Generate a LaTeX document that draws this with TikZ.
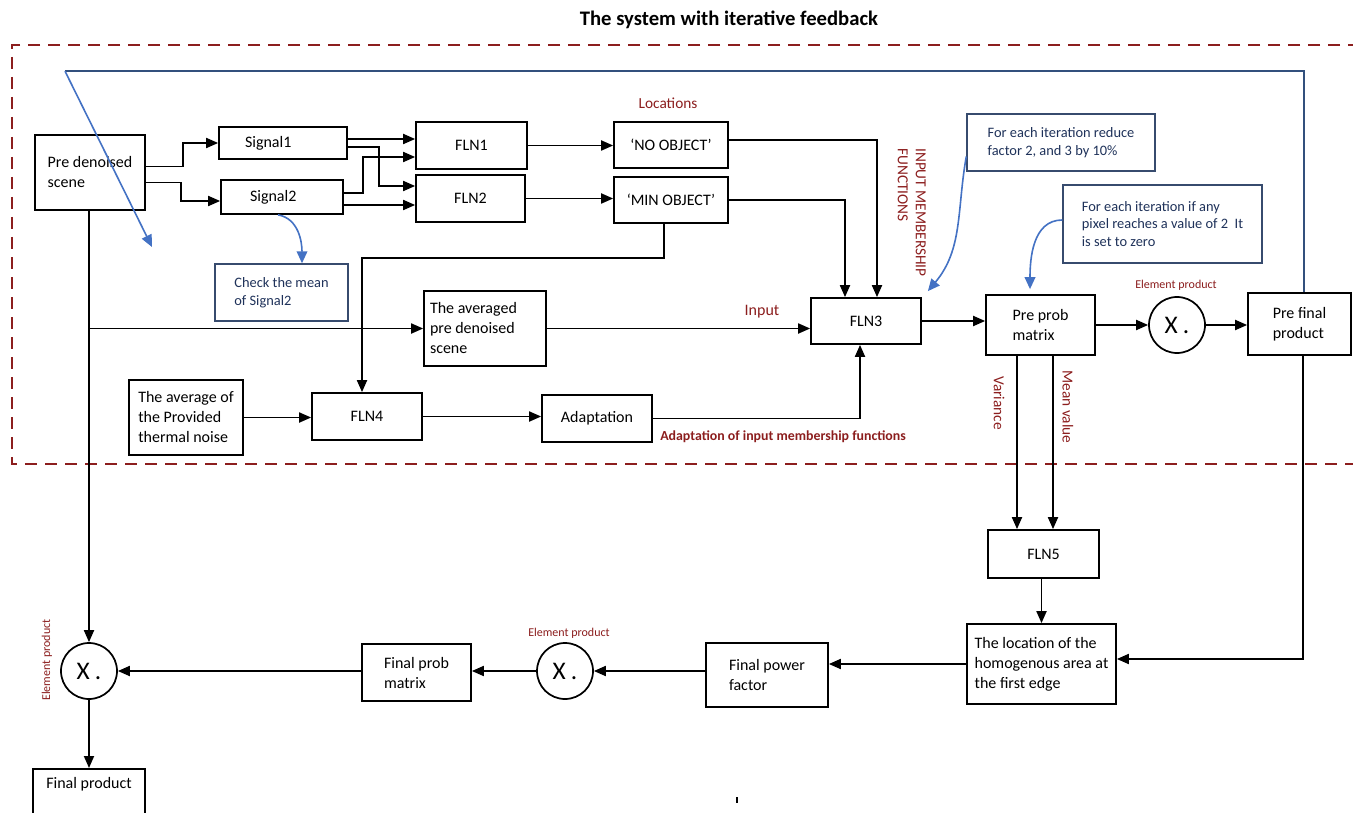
\documentclass[tikz,border=0pt]{standalone}
\usepackage{fontspec}
\setmainfont{Carlito}
\usetikzlibrary{calc,arrows.meta}
\definecolor{dred}{RGB}{140,30,30}
\definecolor{fbblue}{RGB}{68,114,196}
\definecolor{fbdark}{RGB}{50,80,125}
\definecolor{navy}{RGB}{31,50,90}
\definecolor{slate}{RGB}{55,75,110}
\begin{document}
\begin{tikzpicture}[x=0.75pt,y=-0.75pt,
  box/.style={draw=black, line width=1.3pt, fill=white, inner sep=0pt, align=left, font=\fontsize{12}{15}\selectfont},
  cbox/.style={draw=slate, line width=1.1pt, fill=white, inner sep=0pt, align=left, text=navy, font=\fontsize{10.8}{13.3}\selectfont},
  sz/.style n args={2}{minimum width=#1, minimum height=#2},
  mult/.style={circle, draw=black, line width=1.3pt, fill=white, minimum size=42pt, inner sep=0pt, font=\fontsize{19}{19}\selectfont},
  conn/.style={line width=1.4pt, -{Triangle[length=9pt,width=7.5pt]}},
  plain/.style={line width=1.4pt},
  bconn/.style={draw=fbblue, line width=1.2pt, -{Triangle[length=9pt,width=8pt]}},
  lbl/.style={text=dred, inner sep=0pt, font=\fontsize{11.5}{13.5}\selectfont},
  small/.style={text=dred, inner sep=0pt, font=\fontsize{9}{10}\selectfont}
]
\fill[white] (0,0) rectangle (1353,813);
\useasboundingbox (0,0) rectangle (1353,813);
\clip (0,0) rectangle (1353,813);

% title
\node[font=\bfseries\fontsize{15.5}{18}\selectfont] (title) at (729,20) {The system with iterative feedback};

% dashed frame
\draw[dred, line width=2.2pt, dash pattern=on 9pt off 6pt] (1360,45) -- (12,45) -- (12,464) -- (1360,464);

% boxes
\node[box, sz={82.5pt}{56.25pt}] (pre) at (90,172.5) {Pre denoised\\scene};
\node[box, sz={96pt}{24pt}] (sig1) at (283,143) {\makebox[57pt][l]{Signal1}};
\node[box, sz={91.5pt}{25.5pt}] (sig2) at (282,197) {\makebox[48pt][l]{Signal2}};
\node[box, sz={83.25pt}{35.25pt}] (fln1) at (471.5,145.5) {FLN1};
\node[box, sz={81.75pt}{35.25pt}] (fln2) at (470.5,198.5) {FLN2};
\node[box, sz={85.5pt}{34.5pt}] (noobj) at (671,145) {`NO OBJECT'};
\node[box, sz={85.5pt}{34.5pt}] (minobj) at (671,200) {`MIN OBJECT'};
\node[box, sz={82.5pt}{34.5pt}] (fln3) at (866,321) {FLN3};
\node[box, sz={81.75pt}{45pt}] (prep) at (1040.5,325) {Pre prob\\matrix};
\node[mult] (cross1) at (1177,325) {X\hspace{0.2em}.};
\node[box, sz={77.25pt}{46.5pt}] (pref) at (1299.5,324) {Pre final\\product};
\node[box, sz={91.5pt}{56.25pt}] (avg) at (485,328.5) {\makebox[82.5pt][l]{The averaged}\\pre denoised\\scene};
\node[box, sz={85.5pt}{56.25pt}] (therm) at (186,417.5) {The average of\\the Provided\\thermal noise};
\node[box, sz={82.5pt}{35.25pt}] (fln4) at (367,416.5) {FLN4};
\node[box, sz={82.5pt}{35.25pt}] (adapt) at (597,418.5) {Adaptation};
\node[box, sz={83.25pt}{36pt}] (fln5) at (1043.5,554) {FLN5};
\node[box, sz={111.75pt}{60pt}] (loc) at (1041.5,664) {The location of the\\homogenous area at\\the first edge};
\node[box, sz={91.5pt}{48pt}] (fpow) at (767,675) {Final power\\factor};
\node[mult] (cross2) at (565,671) {X\hspace{0.2em}.};
\node[box, sz={81.75pt}{42.75pt}] (fprob) at (416.5,672.5) {Final prob\\matrix};
\node[mult] (cross3) at (89,671) {X\hspace{0.2em}.};
\node[box, minimum width=84pt, anchor=north, inner ysep=6pt, text height=9pt, text depth=30pt] (fprod) at (89,768) {Final product};

% callouts
\node[cbox, sz={99.75pt}{42.75pt}] (check) at (281.5,292.5) {Check the mean\\of Signal2};
\node[cbox, sz={141pt}{42.75pt}] (call1) at (1061,142.5) {For each iteration reduce\\factor 2, and 3 by 10\%};
\node[cbox, sz={149.25pt}{58.5pt}] (call2) at (1162.5,224) {For each iteration if any\\pixel reaches a value of 2~~It\\is set to zero};

% labels
\node[lbl] (locl) at (668,103) {Locations};
\node[lbl, rotate=-90, anchor=north west, align=left] (imf) at (926,148) {INPUT MEMBERSHIP\\FUNCTIONS};
\node[lbl, font=\fontsize{12}{14}\selectfont] (inl) at (762,312) {Input};
\node[lbl, anchor=west, font=\bfseries\fontsize{10.4}{12}\selectfont] (adl) at (660,437) {Adaptation of input membership functions};
\node[lbl, rotate=-90] (varl) at (999,403) {Variance};
\node[lbl, rotate=-90] (meanl) at (1068,407) {Mean value};
\node[small] (ep1) at (1176,285) {Element product};
\node[small] (ep2) at (569,633) {Element product};
\node[small, rotate=90] (ep3) at (47,660) {Element product};

% connectors
\draw[conn] ($(pre.east)+(0,-6)$) -- ++(37,0) |- (sig1.west);
\draw[conn] ($(pre.east)+(0,10)$) -- ++(35,0) |- ($(sig2.west)+(0,4)$);
\draw[conn] ($(sig1.east)+(0,-4)$) -- ($(fln1.west)+(0,-6.5)$);
\draw[conn] ($(sig1.east)+(0,4)$) -- ++(31,0) |- ($(fln2.west)+(0,-12.5)$);
\draw[conn] ($(sig2.east)+(0,-4)$) -- ++(19,0) |- ($(fln1.west)+(0,11.5)$);
\draw[conn] ($(sig2.east)+(0,8)$) -- ($(fln2.west)+(0,6.5)$);
\draw[conn] (fln1.east) -- (fln1.east -| noobj.west);
\draw[conn] (fln2.east) -- (fln2.east -| minobj.west);
\draw[conn] ($(noobj.east)+(0,-5)$) -| ($(fln3.north)+(11,0)$);
\draw[conn] (minobj.east) -| ($(fln3.north)+(-21,0)$);
\draw[conn] ($(minobj.south)+(-7,0)$) -- ++(0,34) -| ($(fln4.north)+(-5,0)$);
\draw[conn] (pre.south -| cross3.north) -- (cross3.north);
\draw[conn] (cross3.north |- avg.west) -- (avg.west);
\draw[conn] (avg.east) -- (avg.east -| fln3.west);
\draw[conn] (therm.east) -- (therm.east -| fln4.west);
\draw[conn] (fln4.east) -- (fln4.east -| adapt.west);
\draw[conn] (adapt.east) -| ($(fln3.south)+(-6,0)$);
\draw[conn] (fln3.east) -- (fln3.east -| prep.west);
\draw[conn] (prep.east) -- (cross1.west);
\draw[conn] (cross1.east) -- (cross1.east -| pref.west);
\coordinate (vA) at ($(prep.south)+(-23.5,0)$);
\coordinate (vB) at ($(prep.south)+(12.5,0)$);
\draw[conn] (vA) -- (vA |- fln5.north);
\draw[conn] (vB) -- (vB |- fln5.north);
\draw[conn] (fln5.south -| loc.north) -- (loc.north);
\draw[conn] ($(pref.south)+(3.5,0)$) |- ($(loc.east)+(0,-5)$);
\draw[conn] (loc.west) -- (loc.west -| fpow.east);
\draw[conn] (fpow.west |- cross2.east) -- (cross2.east);
\draw[conn] (cross2.west) -- (cross2.west -| fprob.east);
\draw[conn] (fprob.west |- cross3.east) -- (cross3.east);
\draw[conn] (cross3.south) -- (cross3.south |- fprod.north);

% feedback
\coordinate (fbtip) at (152,247);
\draw[plain, draw=fbdark] ($(pref.north)+(4.5,0)$) -- ++(0,-221) -- ++(-1239,0) coordinate (fbc);
\draw[bconn] (fbc) -- (fbtip);

% blue callout arrows
\draw[bconn] ($(sig2.south)+(-4,0)$) to[out=-10,in=90] ($(check.north)+(20.5,0)$);
\draw[bconn] ($(call1.west)+(0,14)$) to[out=-100,in=50] ($(fln3.north east)+(6,-6)$);
\draw[bconn] ($(call2.west)+(0,-4)$) to[out=180,in=90] ($(prep.north)+(-10.5,-5)$);

% stray mark
\draw[line width=1pt] (737,797) -- (737,803);
\end{tikzpicture}
\end{document}
